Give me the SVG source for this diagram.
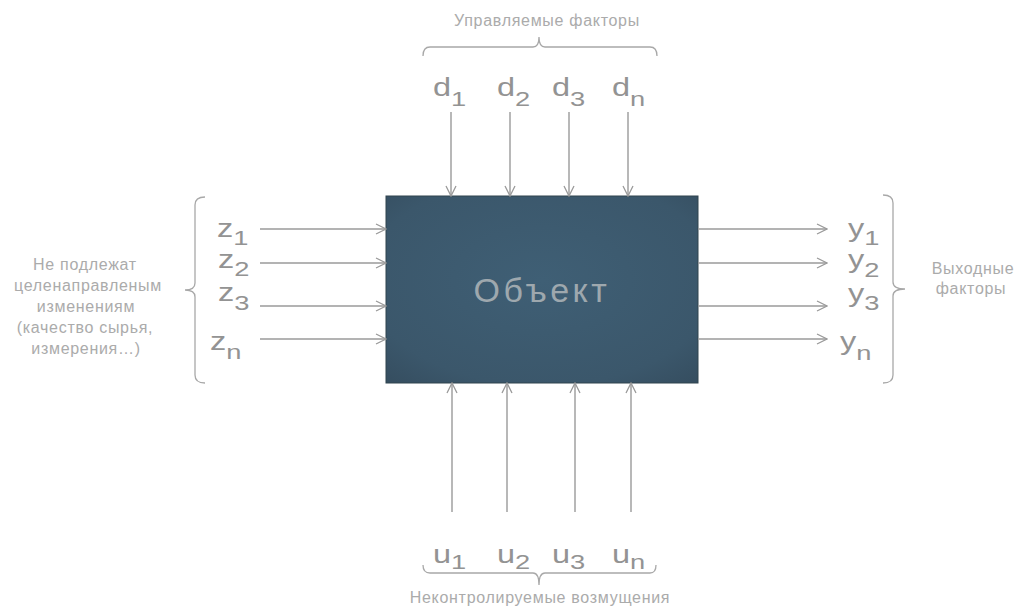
<svg xmlns="http://www.w3.org/2000/svg" width="1016" height="610" viewBox="0 0 1016 610">
<defs>
<radialGradient id="boxg" cx="0.5" cy="0.45" r="0.75">
<stop offset="0" stop-color="#3f5f75"/>
<stop offset="0.75" stop-color="#3b576b"/>
<stop offset="1" stop-color="#354d5f"/>
</radialGradient>
<marker id="ah" viewBox="0 0 12 12" refX="11" refY="6" markerWidth="12" markerHeight="12" markerUnits="userSpaceOnUse" orient="auto">
<path d="M1,1 L11,6 L1,11" fill="none" stroke="#9a9a9a" stroke-width="1.3"/>
</marker>
<style>
.ln{stroke:#9a9a9a;stroke-width:1.4;fill:none;marker-end:url(#ah)}
.br{stroke:#a8a8a8;stroke-width:1.3;fill:none}
.cap{font-family:"Liberation Sans",Arial,sans-serif;font-size:16px;fill:#ababab;text-anchor:middle;letter-spacing:0.7px}
.lbl{font-family:"Liberation Sans",Arial,sans-serif;font-size:25px;fill:#939393}
.sub{font-size:21px}
.obj{font-family:"Liberation Sans",Arial,sans-serif;font-size:34px;fill:#9ea8ae;text-anchor:middle;letter-spacing:3.5px}
</style>
</defs>
<rect width="1016" height="610" fill="#ffffff"/>

<g id="object">
<rect x="386" y="196" width="312" height="187" fill="url(#boxg)" stroke="#30444f" stroke-width="1"/>
<text class="obj" x="542" y="302">Объект</text>
</g>

<g id="connectors">
<line class="ln" x1="451" y1="112" x2="451" y2="196"/>
<line class="ln" x1="510" y1="112" x2="510" y2="196"/>
<line class="ln" x1="569" y1="112" x2="569" y2="196"/>
<line class="ln" x1="628" y1="112" x2="628" y2="196"/>
<line class="ln" x1="452" y1="512" x2="452" y2="383"/>
<line class="ln" x1="507" y1="512" x2="507" y2="383"/>
<line class="ln" x1="575" y1="512" x2="575" y2="383"/>
<line class="ln" x1="631" y1="512" x2="631" y2="383"/>
<line class="ln" x1="260" y1="229" x2="386" y2="229"/>
<line class="ln" x1="260" y1="263" x2="386" y2="263"/>
<line class="ln" x1="260" y1="306" x2="386" y2="306"/>
<line class="ln" x1="260" y1="339" x2="386" y2="339"/>
<line class="ln" x1="698" y1="229" x2="827" y2="229"/>
<line class="ln" x1="698" y1="263" x2="827" y2="263"/>
<line class="ln" x1="698" y1="306" x2="827" y2="306"/>
<line class="ln" x1="698" y1="339" x2="827" y2="339"/>
</g>

<g id="controlled">
<path class="br" d="M423,56 Q423,47 430,47 L533,47 Q539,47 539,37 Q539,47 545,47 L650,47 Q657,47 657,56"/>
<text class="cap" x="547" y="26">Управляемые факторы</text>
<g transform="translate(433,96) scale(1.3,1)"><text class="lbl">d<tspan class="sub" dy="10">1</tspan></text></g>
<g transform="translate(497,96) scale(1.3,1)"><text class="lbl">d<tspan class="sub" dy="10">2</tspan></text></g>
<g transform="translate(552,96) scale(1.3,1)"><text class="lbl">d<tspan class="sub" dy="10">3</tspan></text></g>
<g transform="translate(612,96) scale(1.3,1)"><text class="lbl">d<tspan class="sub" dy="10">n</tspan></text></g>
</g>

<g id="disturbances">
<path class="br" d="M423,565 Q423,573 430,573 L533,573 Q539,573 539,585 Q539,573 545,573 L650,573 Q656,573 656,565"/>
<text class="cap" x="540" y="603">Неконтролируемые возмущения</text>
<g transform="translate(433,563) scale(1.3,1)"><text class="lbl">u<tspan class="sub" dy="6">1</tspan></text></g>
<g transform="translate(497,563) scale(1.3,1)"><text class="lbl">u<tspan class="sub" dy="6">2</tspan></text></g>
<g transform="translate(552,563) scale(1.3,1)"><text class="lbl">u<tspan class="sub" dy="6">3</tspan></text></g>
<g transform="translate(612,563) scale(1.3,1)"><text class="lbl">u<tspan class="sub" dy="6">n</tspan></text></g>
</g>

<g id="inputs">
<path class="br" d="M205,197 Q195,197 195,205 L195,283 Q195,290 185,290 Q195,290 195,297 L195,375 Q195,383 205,383"/>
<text class="cap" x="85" y="270">Не подлежат</text>
<text class="cap" x="88" y="291">целенаправленым</text>
<text class="cap" x="86" y="312">изменениям</text>
<text class="cap" x="85" y="333">(качество сырья,</text>
<text class="cap" x="86" y="354">измерения…)</text>
<g transform="translate(217,237) scale(1.3,1)"><text class="lbl">z<tspan class="sub" dy="8">1</tspan></text></g>
<g transform="translate(218,268) scale(1.3,1)"><text class="lbl">z<tspan class="sub" dy="8">2</tspan></text></g>
<g transform="translate(218,301) scale(1.3,1)"><text class="lbl">z<tspan class="sub" dy="9">3</tspan></text></g>
<g transform="translate(210,350) scale(1.3,1)"><text class="lbl">z<tspan class="sub" dy="9">n</tspan></text></g>
</g>

<g id="outputs">
<path class="br" d="M883,195 Q893,195 893,203 L893,282 Q893,289 905,289 Q893,289 893,296 L893,375 Q893,383 883,383"/>
<text class="cap" x="973" y="274">Выходные</text>
<text class="cap" x="971" y="294">факторы</text>
<g transform="translate(848,237) scale(1.3,1)"><text class="lbl">y<tspan class="sub" dy="8">1</tspan></text></g>
<g transform="translate(848,268) scale(1.3,1)"><text class="lbl">y<tspan class="sub" dy="9">2</tspan></text></g>
<g transform="translate(848,302) scale(1.3,1)"><text class="lbl">y<tspan class="sub" dy="8">3</tspan></text></g>
<g transform="translate(840,350) scale(1.3,1)"><text class="lbl">y<tspan class="sub" dy="10">n</tspan></text></g>
</g>
</svg>
